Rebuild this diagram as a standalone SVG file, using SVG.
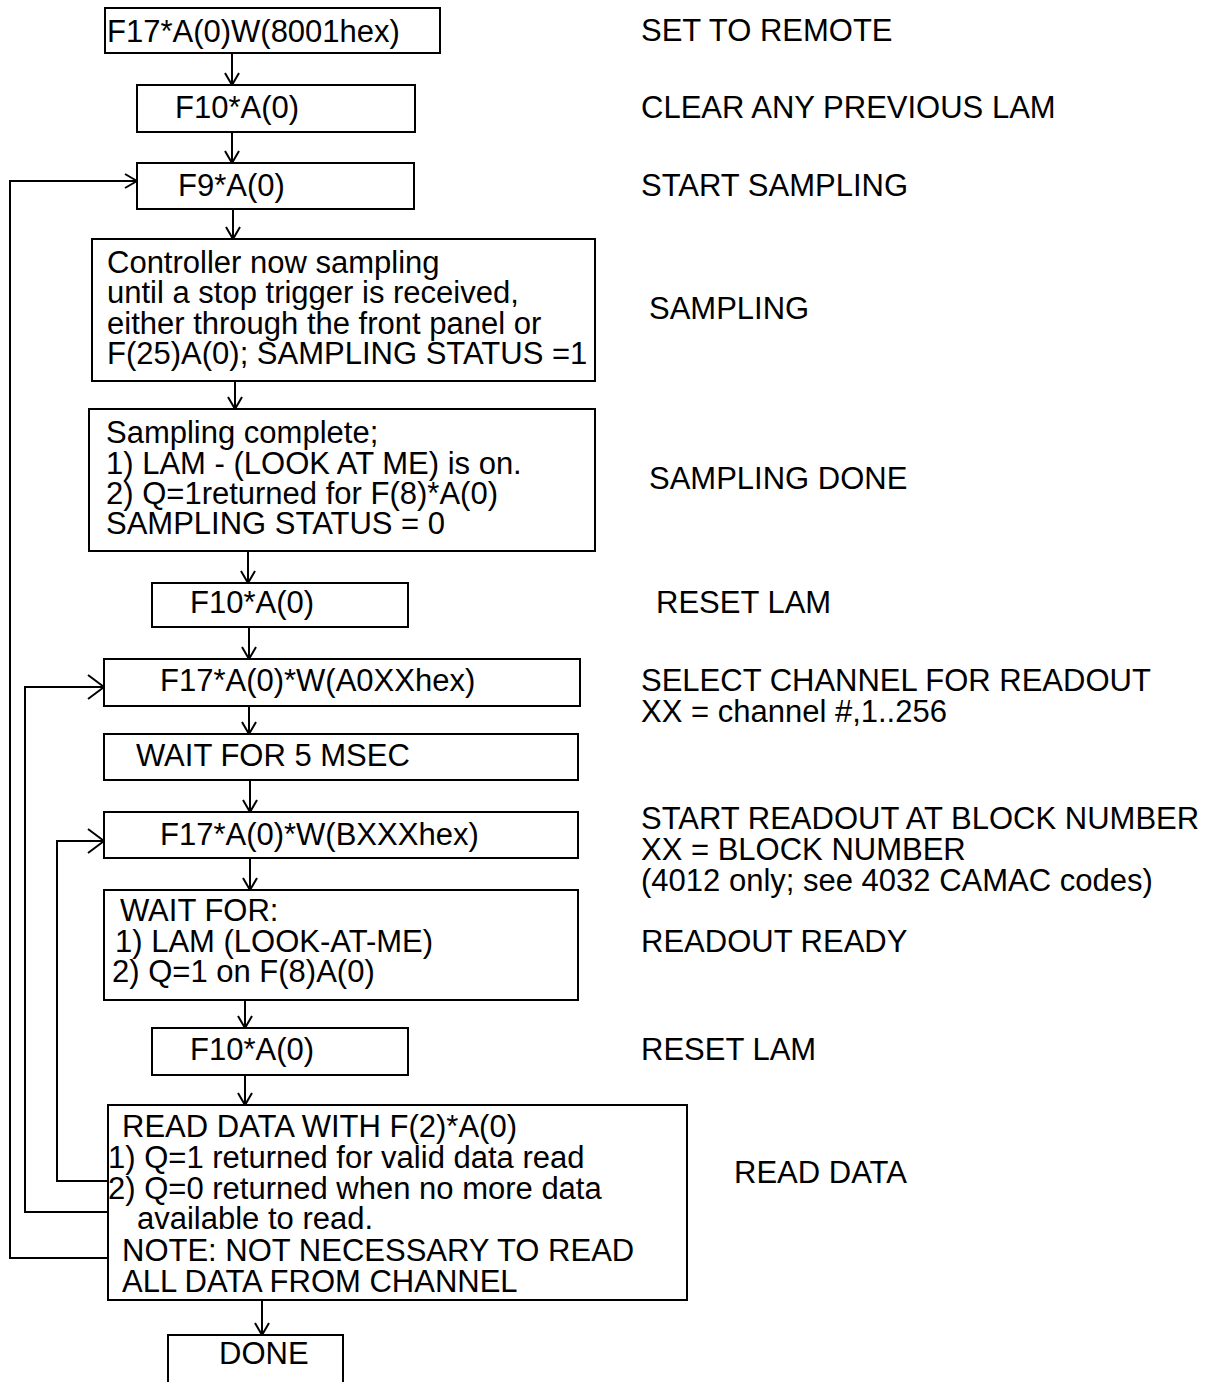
<svg xmlns="http://www.w3.org/2000/svg" width="1216" height="1382" viewBox="0 0 1216 1382">
<style>
text{font-family:"Liberation Sans",Arial,sans-serif;font-size:31px;fill:#000}
.box{fill:#fff;stroke:#000;stroke-width:2}
.ln{fill:none;stroke:#000;stroke-width:2}
</style>
<defs>
<marker id="a" viewBox="0 0 14 16" refX="13" refY="8" markerWidth="14" markerHeight="16" markerUnits="userSpaceOnUse" orient="auto"><path d="M1,1 L13,8 L1,15" fill="none" stroke="#000" stroke-width="2"/></marker>
<marker id="b" viewBox="0 0 18 26" refX="17" refY="13" markerWidth="18" markerHeight="26" markerUnits="userSpaceOnUse" orient="auto"><path d="M1,1 L17,13 L1,25" fill="none" stroke="#000" stroke-width="2"/></marker>
</defs>
<g id="connectors">
<path class="ln" d="M232,53 V85" marker-end="url(#a)"/>
<path class="ln" d="M232,132 V163" marker-end="url(#a)"/>
<path class="ln" d="M233,209 V239" marker-end="url(#a)"/>
<path class="ln" d="M235,381 V409" marker-end="url(#a)"/>
<path class="ln" d="M248,551 V583" marker-end="url(#a)"/>
<path class="ln" d="M249,627 V659" marker-end="url(#a)"/>
<path class="ln" d="M249,706 V734" marker-end="url(#a)"/>
<path class="ln" d="M250,780 V812" marker-end="url(#a)"/>
<path class="ln" d="M250,858 V890" marker-end="url(#a)"/>
<path class="ln" d="M245,1000 V1028" marker-end="url(#a)"/>
<path class="ln" d="M245,1075 V1105" marker-end="url(#a)"/>
<path class="ln" d="M262,1300 V1335" marker-end="url(#a)"/>
<path class="ln" d="M108,1258 H10 V181 H137" marker-end="url(#a)"/>
<path class="ln" d="M108,1212 H25 V687 H104" marker-end="url(#b)"/>
<path class="ln" d="M108,1181 H57 V841 H104" marker-end="url(#b)"/>
</g>
<g id="n1"><rect class="box" x="105" y="8" width="335" height="45"/><text x="107" y="42">F17*A(0)W(8001hex)</text></g>
<g id="n2"><rect class="box" x="137" y="85" width="278" height="47"/><text x="175" y="118">F10*A(0)</text></g>
<g id="n3"><rect class="box" x="137" y="163" width="277" height="46"/><text x="178" y="196">F9*A(0)</text></g>
<g id="n4"><rect class="box" x="92" y="239" width="503" height="142"/>
<text x="107" y="273">Controller now sampling</text>
<text x="107" y="303">until a stop trigger is received,</text>
<text x="107" y="334">either through the front panel or</text>
<text x="107" y="364">F(25)A(0); SAMPLING STATUS =1</text></g>
<g id="n5"><rect class="box" x="89" y="409" width="506" height="142"/>
<text x="106" y="443">Sampling complete;</text>
<text x="106" y="474">1) LAM - (LOOK AT ME) is on.</text>
<text x="106" y="504">2) Q=1returned for F(8)*A(0)</text>
<text x="106" y="534">SAMPLING STATUS = 0</text></g>
<g id="n6"><rect class="box" x="152" y="583" width="256" height="44"/><text x="190" y="613">F10*A(0)</text></g>
<g id="n7"><rect class="box" x="104" y="659" width="476" height="47"/><text x="160" y="691">F17*A(0)*W(A0XXhex)</text></g>
<g id="n8"><rect class="box" x="104" y="734" width="474" height="46"/><text x="136" y="766">WAIT FOR 5 MSEC</text></g>
<g id="n9"><rect class="box" x="104" y="812" width="474" height="46"/><text x="160" y="845">F17*A(0)*W(BXXXhex)</text></g>
<g id="n10"><rect class="box" x="104" y="890" width="474" height="110"/>
<text x="120" y="921">WAIT FOR:</text>
<text x="115" y="952">1) LAM (LOOK-AT-ME)</text>
<text x="112" y="982">2) Q=1 on F(8)A(0)</text></g>
<g id="n11"><rect class="box" x="152" y="1028" width="256" height="47"/><text x="190" y="1060">F10*A(0)</text></g>
<g id="n12"><rect class="box" x="108" y="1105" width="579" height="195"/>
<text x="122" y="1137">READ DATA WITH F(2)*A(0)</text>
<text x="108" y="1168">1) Q=1 returned for valid data read</text>
<text x="108" y="1199">2) Q=0 returned when no more data</text>
<text x="137" y="1229">available to read.</text>
<text x="122" y="1261">NOTE: NOT NECESSARY TO READ</text>
<text x="122" y="1292">ALL DATA FROM CHANNEL</text></g>
<g id="n13"><rect class="box" x="168" y="1335" width="175" height="50"/><text x="219" y="1364">DONE</text></g>
<g id="labels">
<text x="641" y="41">SET TO REMOTE</text>
<text x="641" y="118">CLEAR ANY PREVIOUS LAM</text>
<text x="641" y="196">START SAMPLING</text>
<text x="649" y="319">SAMPLING</text>
<text x="649" y="489">SAMPLING DONE</text>
<text x="656" y="613">RESET LAM</text>
<text x="641" y="691">SELECT CHANNEL FOR READOUT</text>
<text x="641" y="722">XX = channel #,1..256</text>
<text x="641" y="829">START READOUT AT BLOCK NUMBER</text>
<text x="641" y="860">XX = BLOCK NUMBER</text>
<text x="641" y="891">(4012 only; see 4032 CAMAC codes)</text>
<text x="641" y="952">READOUT READY</text>
<text x="641" y="1060">RESET LAM</text>
<text x="734" y="1183">READ DATA</text>
</g>
</svg>
